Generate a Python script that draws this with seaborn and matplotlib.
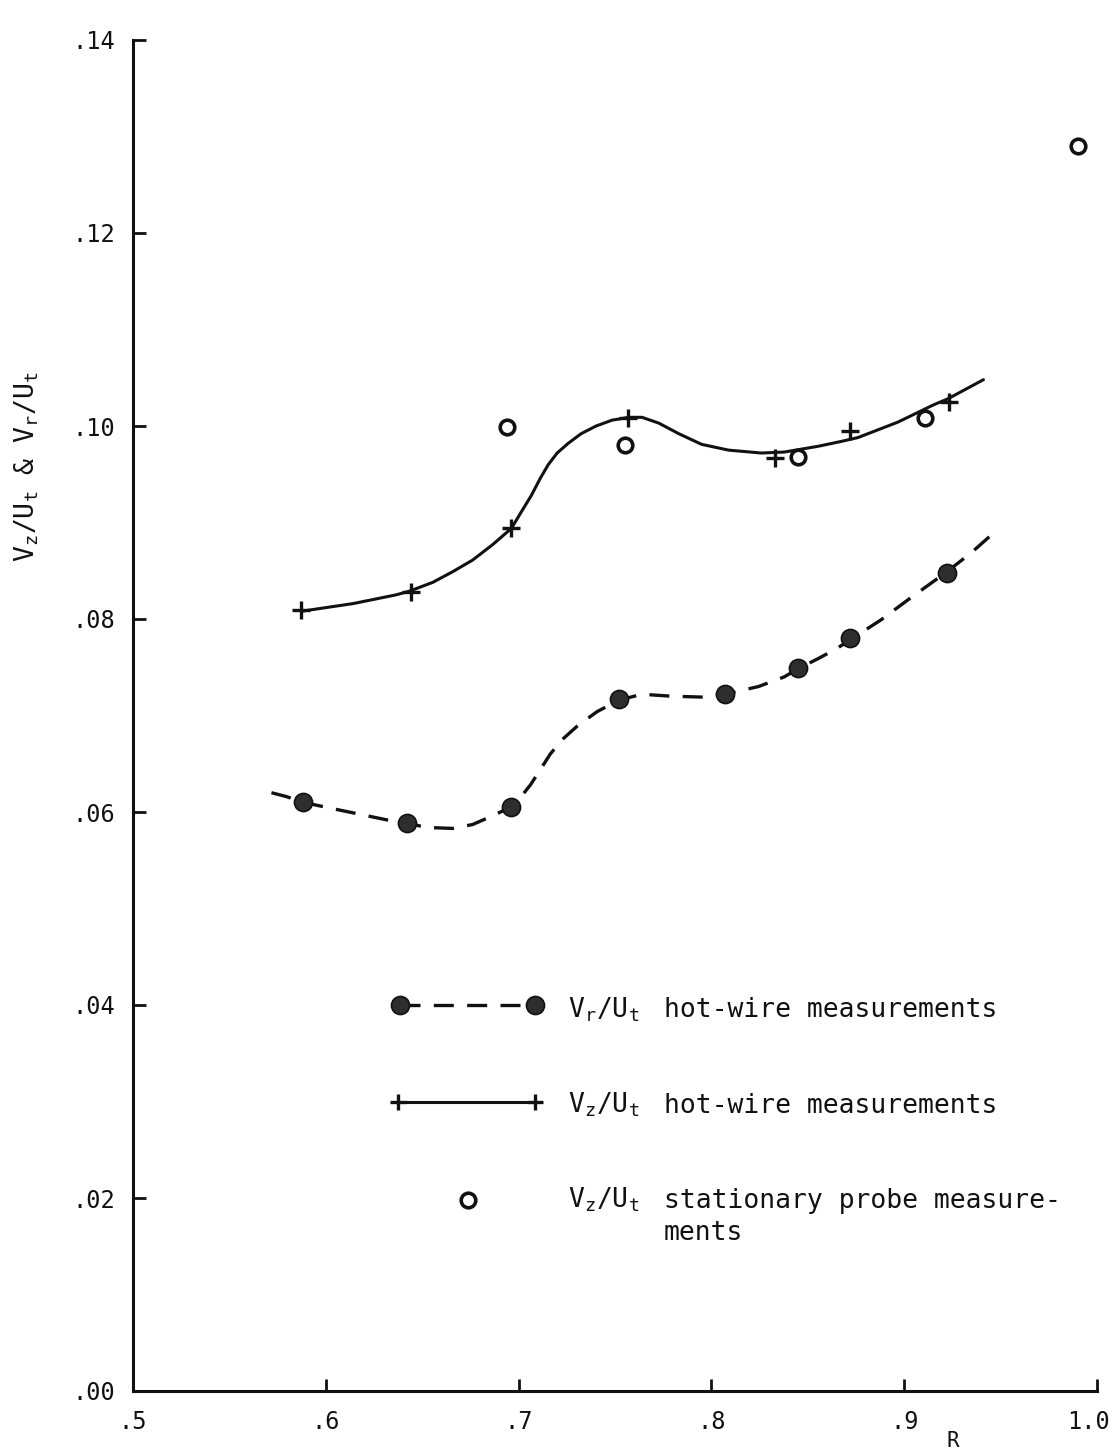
import matplotlib
matplotlib.use("Agg")
import matplotlib.pyplot as plt
import matplotlib.transforms as mtransforms
import seaborn as sns

# ---------------- data ----------------
# V_r/U_t hot-wire measurements (filled circles)
vr_R = [0.588, 0.642, 0.696, 0.752, 0.807, 0.845, 0.872, 0.922]
vr_V = [0.0610, 0.0589, 0.0605, 0.0717, 0.0722, 0.0749, 0.0780, 0.0848]

# V_z/U_t hot-wire measurements (plus signs)
vz_R = [0.587, 0.644, 0.696, 0.757, 0.833, 0.872, 0.923]
vz_V = [0.0809, 0.0828, 0.0894, 0.1008, 0.0967, 0.0995, 0.1025]

# V_z/U_t stationary probe measurements (open circles)
sp_R = [0.694, 0.755, 0.845, 0.911, 0.990]
sp_V = [0.0999, 0.0980, 0.0968, 0.1008, 0.1290]

# hand-faired curve through V_z/U_t hot-wire data (solid)
vz_curve_R = [0.5873, 0.6142, 0.6364, 0.6436, 0.6555, 0.6658, 0.6761, 0.6865,
              0.6963, 0.7014, 0.7066, 0.7113, 0.7154, 0.7200, 0.7257, 0.7324,
              0.7402, 0.7484, 0.7572, 0.7640, 0.7727, 0.7831, 0.7949, 0.8089,
              0.8259, 0.8378, 0.8554, 0.8673, 0.8760, 0.8967, 0.9153, 0.9225,
              0.9411]
vz_curve_V = [0.0808, 0.0816, 0.0825, 0.0829, 0.0838, 0.0849, 0.0861, 0.0877,
              0.0894, 0.0911, 0.0928, 0.0946, 0.0960, 0.0972, 0.0982, 0.0992,
              0.1000, 0.1006, 0.1009, 0.1009, 0.1003, 0.0992, 0.0981, 0.0975,
              0.0972, 0.0973, 0.0979, 0.0984, 0.0988, 0.1004, 0.1022, 0.1028,
              0.1048]

# hand-faired curve through V_r/U_t hot-wire data (dashed)
vr_curve_R = [0.5718, 0.5795, 0.5883, 0.6023, 0.6193, 0.6312, 0.6415, 0.6519,
              0.6658, 0.6761, 0.6865, 0.6958, 0.7009, 0.7061, 0.7113, 0.7164,
              0.7226, 0.7304, 0.7407, 0.7521, 0.7640, 0.7794, 0.7965, 0.8068,
              0.8244, 0.8378, 0.8445, 0.8554, 0.8647, 0.8724, 0.8879, 0.9034,
              0.9215, 0.9344, 0.9463]
vr_curve_V = [0.0620, 0.0616, 0.0610, 0.0604, 0.0597, 0.0592, 0.0589, 0.0584,
              0.0583, 0.0587, 0.0596, 0.0605, 0.0615, 0.0628, 0.0644, 0.0660,
              0.0675, 0.0689, 0.0704, 0.0716, 0.0722, 0.0720, 0.0719, 0.0722,
              0.0730, 0.0740, 0.0748, 0.0759, 0.0769, 0.0779, 0.0799, 0.0822,
              0.0848, 0.0868, 0.0889]

x_ticks = [0.5, 0.6, 0.7, 0.8, 0.9, 1.0]
x_tick_labels = [".5", ".6", ".7", ".8", ".9", "1.0"]
y_ticks = [0.00, 0.02, 0.04, 0.06, 0.08, 0.10, 0.12, 0.14]
y_tick_labels = [".00", ".02", ".04", ".06", ".08", ".10", ".12", ".14"]

legend_labels = ["hot-wire measurements", "hot-wire measurements",
                 "stationary probe measure-"]
legend_symbols = [r"$V_r/U_t$", r"$V_z/U_t$", r"$V_z/U_t$"]

# ---------------- style ----------------
sns.set_theme(style="white")
plt.rcParams["font.family"] = ["DejaVu Sans Mono", "DejaVu Sans"]
plt.rcParams["mathtext.default"] = "regular"
plt.rcParams["xtick.direction"] = "in"
plt.rcParams["ytick.direction"] = "in"

W, H = 1114, 1455
fig = plt.figure(figsize=(W / 100, H / 100), dpi=100)
L, Rr, B, T = 133, 1097, 1391, 40
ax = fig.add_axes([L / W, (H - B) / H, (Rr - L) / W, (B - T) / H])

INK = "#111111"
DOT = "#2e2e2e"

# curves
sns.lineplot(x=vz_curve_R, y=vz_curve_V, sort=False, estimator=None,
             color=INK, linewidth=2.2, ax=ax)
sns.lineplot(x=vr_curve_R, y=vr_curve_V, sort=False, estimator=None,
             color=INK, linewidth=2.4, ax=ax)
ax.lines[-1].set_dashes([6, 4])

# markers
sns.scatterplot(x=vr_R, y=vr_V, marker="o", s=170, color=DOT,
                edgecolor=INK, linewidth=1.2, zorder=5, ax=ax)
sns.scatterplot(x=vz_R, y=vz_V, marker="+", s=150, color=INK,
                linewidth=2.4, zorder=5, ax=ax)
sns.scatterplot(x=sp_R, y=sp_V, marker="o", s=110, color="white",
                edgecolor=INK, linewidth=2.6, zorder=6, ax=ax)

# axes
ax.set_xlim(0.5, 1.0)
ax.set_ylim(0.0, 0.14)
ax.set_xticks(x_ticks)
ax.set_xticklabels(x_tick_labels)
ax.set_yticks(y_ticks)
ax.set_yticklabels(y_tick_labels)
for side in ["top", "right"]:
    ax.spines[side].set_visible(False)
for side in ["left", "bottom"]:
    ax.spines[side].set_linewidth(2.2)
    ax.spines[side].set_color(INK)
ax.tick_params(axis="both", which="major", direction="in", length=9, width=2,
               color=INK, labelsize=17, labelcolor=INK,
               bottom=True, left=True, top=False, right=False)
ax.tick_params(axis="x", pad=14)
ax.tick_params(axis="y", pad=13)
ax.grid(False)
ax.set_xlabel("")
ax.set_ylabel("")

# keep the last x label inside the picture, as in the original
last = ax.get_xticklabels()[-1]
last.set_transform(last.get_transform() +
                   mtransforms.ScaledTranslation(-0.09, 0, fig.dpi_scale_trans))

# axis titles
fig.text(953 / W, 1 - 1441 / H, "R", ha="center", va="center",
         fontsize=15, color=INK)
fig.text(27 / W, 1 - 467 / H, r"$V_z/U_t$ & $V_r/U_t$", rotation=90,
         ha="center", va="center", fontsize=19, color=INK)

# legend (drawn as in the original)
tr = ax.transAxes
ax.plot([0.277, 0.417], [0.2857, 0.2857], transform=tr, color=INK, lw=2.4,
        dashes=[6, 4], marker="o", ms=13, mfc=DOT, mec=INK, mew=1.2)
ax.plot([0.275, 0.417], [0.2139, 0.2139], transform=tr, color=INK, lw=2.2,
        marker="+", ms=12, mew=2.4, mec=INK)
ax.plot([0.3475], [0.1414], transform=tr, ls="none", marker="o", ms=10.5,
        mfc="white", mec=INK, mew=2.6)

sym_x, desc_x = 0.4512, 0.5508
base_y = [0.2768, 0.2058, 0.1355]
for sym, lab, yb in zip(legend_symbols, legend_labels, base_y):
    ax.text(sym_x, yb, sym, transform=tr, ha="left", va="baseline",
            fontsize=19, color=INK)
    ax.text(desc_x, yb, lab, transform=tr, ha="left", va="baseline",
            fontsize=19, color=INK)
ax.text(desc_x, 0.1118, "ments", transform=tr, ha="left", va="baseline",
        fontsize=19, color=INK)

fig.savefig("out.png", dpi=100, facecolor="white")
